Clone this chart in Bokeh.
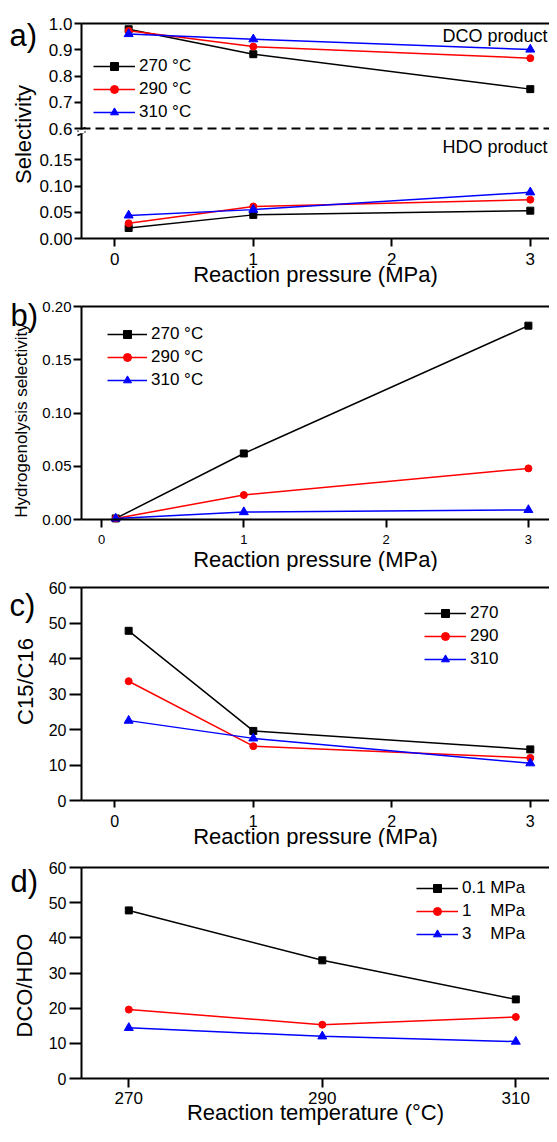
import math
from bokeh.plotting import figure
from bokeh.layouts import column
from bokeh.models import (Range1d, LinearAxis, FixedTicker, Legend,
                          LegendItem, Label, BoxAnnotation)
from bokeh.embed import file_html
from bokeh.resources import INLINE

FONT = "Liberation Sans"
W = 549          # figure width (px)
AX = 81          # x pixel of the y axis line

# ---------------- data ----------------
pressure = [0.1, 1, 3]            # MPa
temperature = [270, 290, 310]     # degC
temp_names = ["270 °C", "290 °C", "310 °C"]
temp_short = ["270", "290", "310"]
pres_names = ["0.1 MPa", "1\u00a0\u00a0\u00a0\u00a0MPa", "3\u00a0\u00a0\u00a0\u00a0MPa"]

# a) selectivity (DCO product, upper part / HDO product, lower part)
dco_270 = [0.978, 0.883, 0.750]
dco_290 = [0.972, 0.912, 0.868]
dco_310 = [0.960, 0.940, 0.901]
hdo_270 = [0.020, 0.045, 0.053]
hdo_290 = [0.029, 0.061, 0.074]
hdo_310 = [0.044, 0.055, 0.088]

# b) hydrogenolysis selectivity
hyd_270 = [0.001, 0.062, 0.182]
hyd_290 = [0.001, 0.023, 0.048]
hyd_310 = [0.001, 0.007, 0.009]

# c) C15/C16 vs pressure
c15_270 = [47.8, 19.6, 14.4]
c15_290 = [33.6, 15.3, 12.0]
c15_310 = [22.5, 17.5, 10.5]

# d) DCO/HDO vs temperature
dh_01 = [47.8, 33.6, 22.5]
dh_1 = [19.6, 15.3, 17.5]
dh_3 = [14.4, 12.0, 10.5]

COLORS = ["#000000", "#ff0000", "#0000ff"]
MARKERS = ["square", "circle", "triangle"]
SIZES = [7, 7, 9]


def x_range_for(x0_px, px_per_unit, origin=0.0):
    """x range spanning the whole figure width; returns (range, y-axis location)."""
    start = origin + (0 - x0_px) / px_per_unit
    end = origin + (W - x0_px) / px_per_unit
    axis_loc = origin + (AX - x0_px) / px_per_unit
    return Range1d(start, end), axis_loc


def y_range_for(v_ref, px_ref, px_per_unit, H):
    """y range spanning the whole figure height; px_ref = pixel row (from top) of v_ref."""
    return Range1d(v_ref - (H - px_ref) / px_per_unit, v_ref + px_ref / px_per_unit)


def px_x(xr, px):
    return xr.start + (xr.end - xr.start) * px / W


def px_y(yr, H, px):
    return yr.end - (yr.end - yr.start) * px / H


def make_fig(H, xr, yr, x_loc, y_bottom, y_top):
    p = figure(width=W, height=H, x_range=xr, y_range=yr,
               output_backend="svg", toolbar_location=None,
               min_border=0, min_border_left=0, min_border_right=0,
               min_border_top=0, min_border_bottom=0)
    p.outline_line_color = None
    p.xgrid.visible = False
    p.ygrid.visible = False
    p.background_fill_color = "white"
    p.border_fill_color = "white"
    xax = p.below[0]
    yax = p.left[0]
    xax.bounds = (x_loc, xr.end)
    xax.fixed_location = y_bottom
    yax.bounds = (y_bottom, y_top)
    yax.fixed_location = x_loc
    topax = LinearAxis(ticker=FixedTicker(ticks=[]), axis_line_width=2,
                       axis_line_color="black", bounds=(x_loc, xr.end),
                       fixed_location=y_top,
                       major_tick_out=0, major_tick_in=0,
                       minor_tick_out=0, minor_tick_in=0,
                       major_label_text_font_size="0px")
    p.add_layout(topax, "above")
    return p, xax, yax


def style_axis(ax, tick_font, tick_out, lab_standoff, label_font=22, label_standoff=0):
    ax.axis_line_width = 2
    ax.axis_line_color = "black"
    ax.major_tick_line_width = 2
    ax.major_tick_line_color = "black"
    ax.major_tick_out = tick_out
    ax.major_tick_in = 0
    ax.minor_tick_out = 0
    ax.minor_tick_in = 0
    ax.major_label_text_font = FONT
    ax.major_label_text_font_size = f"{tick_font}px"
    ax.major_label_text_color = "black"
    ax.major_label_standoff = lab_standoff
    ax.axis_label_text_font = FONT
    ax.axis_label_text_font_size = f"{label_font}px"
    ax.axis_label_text_font_style = "normal"
    ax.axis_label_text_color = "black"
    ax.axis_label_standoff = label_standoff


def y_title(p, xr, yr, H, text, base_px, center_px, size, **kw):
    p.add_layout(Label(x=px_x(xr, base_px), y=px_y(yr, H, center_px), text=text,
                       angle=math.pi / 2, text_font=FONT, text_font_size=f"{size}px",
                       text_color="black", text_align="center",
                       text_baseline="alphabetic", **kw))


def add_series(p, xs, ys, i, **kw):
    ln = p.line(xs, ys, line_color=COLORS[i], line_width=1.5, **kw)
    sc = p.scatter(xs, ys, marker=MARKERS[i], size=SIZES[i],
                   fill_color=COLORS[i], line_color=COLORS[i], **kw)
    return [ln, sc]


def add_legend(p, names, rens, vx, row1_center_px, H, gw=42):
    legend_h = 3 * 20 + 2 * 3
    vy = H - (row1_center_px - 10) - legend_h
    lg = Legend(items=[LegendItem(label=n, renderers=r) for n, r in zip(names, rens)],
                location=(vx, vy), glyph_width=gw, glyph_height=20,
                label_height=20, spacing=3, padding=0, margin=0,
                label_standoff=4, background_fill_alpha=0,
                border_line_color=None, label_text_font=FONT,
                label_text_font_size="17px", label_text_color="black")
    p.add_layout(lg)


def panel_label(p, text, x_loc, ytop, dx, dy):
    p.add_layout(Label(x=x_loc, y=ytop, x_offset=dx, y_offset=dy, text=text,
                       text_font=FONT, text_font_size="31px", text_color="black",
                       text_align="left", text_baseline="alphabetic"))


# ================= panel a =================
HA = 290
xr_a, loc_a = x_range_for(114.3, 138.5)
yr_a = y_range_for(0.0, 238, 525.0, HA)          # HDO (lower) scale
dco_range = y_range_for(1.0, 23, 262.5, HA)      # DCO (upper) scale


def to_lower(u):
    f = (u - dco_range.start) / (dco_range.end - dco_range.start)
    return yr_a.start + f * (yr_a.end - yr_a.start)


top_a = to_lower(1.0)
pa, xa, ya = make_fig(HA, xr_a, yr_a, loc_a, 0.0, top_a)
pa.extra_y_ranges = {"dco": dco_range}

low_ticks = [0.0, 0.05, 0.10, 0.15]
up_ticks = [0.6, 0.7, 0.8, 0.9, 1.0]
ticks_a = low_ticks + [to_lower(u) for u in up_ticks]
over_a = {t: f"{t:.2f}" for t in low_ticks}
over_a.update({to_lower(u): f"{u:.1f}" for u in up_ticks})

xa.ticker = FixedTicker(ticks=[0, 1, 2, 3])
xa.axis_label = "Reaction pressure (MPa)"
style_axis(xa, 17, 8, 6, 22, -6)
ya.ticker = FixedTicker(ticks=ticks_a)
ya.major_label_overrides = over_a
style_axis(ya, 17, 7, 2)
y_title(pa, xr_a, yr_a, HA, "Selectivity", 22.5, 134, 22)

pa.line([loc_a, xr_a.end], [0.6, 0.6], y_range_name="dco",
        line_color="black", line_width=1.8, line_dash="9 5")

# axis break marks at the 0.6 / 0.2 junction
pa.add_layout(BoxAnnotation(left=px_x(xr_a, AX - 3), right=px_x(xr_a, AX + 3),
                            top=px_y(yr_a, HA, 129.3), bottom=px_y(yr_a, HA, 132.7),
                            fill_color="white", fill_alpha=1.0, line_color=None,
                            level="overlay"))
pa.segment(x0=[px_x(xr_a, AX - 4)] * 2, x1=[px_x(xr_a, AX + 4)] * 2,
           y0=[px_y(yr_a, HA, 131), px_y(yr_a, HA, 135)],
           y1=[px_y(yr_a, HA, 127), px_y(yr_a, HA, 131)],
           line_color="black", line_width=1.5, level="overlay")

rens_a = []
for i, ys in enumerate([dco_270, dco_290, dco_310]):
    rens_a.append(add_series(pa, pressure, ys, i, y_range_name="dco"))
for i, ys in enumerate([hdo_270, hdo_290, hdo_310]):
    add_series(pa, pressure, ys, i)
add_legend(pa, temp_names, rens_a, 93, 65.7, HA)

pa.add_layout(Label(x=xr_a.end, y=1.0, y_range_name="dco", x_offset=-2, y_offset=-12.7,
                    text="DCO product", text_font=FONT, text_font_size="18px",
                    text_color="black", text_align="right", text_baseline="middle"))
pa.add_layout(Label(x=xr_a.end, y=0.6, y_range_name="dco", x_offset=-2, y_offset=-18.7,
                    text="HDO product", text_font=FONT, text_font_size="18px",
                    text_color="black", text_align="right", text_baseline="middle"))
panel_label(pa, "a)", loc_a, top_a, -72, -12)

# ================= panel b =================
HB = 281
xr_b, loc_b = x_range_for(101.0, 142.3)
yr_b = y_range_for(0.0, 229, 1065.0, HB)
pb, xb, yb = make_fig(HB, xr_b, yr_b, loc_b, 0.0, 0.20)
xb.ticker = FixedTicker(ticks=[0, 1, 2, 3])
xb.axis_label = "Reaction pressure (MPa)"
style_axis(xb, 13, 8, 7, 22, 0)
yb.ticker = FixedTicker(ticks=[0.0, 0.05, 0.10, 0.15, 0.20])
yb.major_label_overrides = {t: f"{t:.2f}" for t in [0.0, 0.05, 0.10, 0.15, 0.20]}
style_axis(yb, 15, 8, 2)
y_title(pb, xr_b, yr_b, HB, "Hydrogenolysis selectivity", 20.5, 130, 17)
rens_b = [add_series(pb, pressure, ys, i) for i, ys in enumerate([hyd_270, hyd_290, hyd_310])]
add_legend(pb, temp_names, rens_b, 107, 44.3, HB, gw=40)
panel_label(pb, "b)", loc_b, 0.20, -71, -9)

# ================= panel c =================
HC = 276
xr_c, loc_c = x_range_for(114.3, 138.5)
yr_c = y_range_for(0.0, 229, 213 / 60, HC)
pc, xc, yc = make_fig(HC, xr_c, yr_c, loc_c, 0.0, 60.0)
xc.ticker = FixedTicker(ticks=[0, 1, 2, 3])
xc.axis_label = "Reaction pressure (MPa)"
style_axis(xc, 16, 7, 7, 22, -6)
yc.ticker = FixedTicker(ticks=[0, 10, 20, 30, 40, 50, 60])
style_axis(yc, 16, 12, 3)
y_title(pc, xr_c, yr_c, HC, "C15/C16", 24.5, 110, 22)
rens_c = [add_series(pc, pressure, ys, i) for i, ys in enumerate([c15_270, c15_290, c15_310])]
add_legend(pc, temp_short, rens_c, 424, 42, HC)
panel_label(pc, "c)", loc_c, 60.0, -72, -18)

# ================= panel d =================
HD = 279
xr_d, loc_d = x_range_for(128.3, 9.675, origin=270)
yr_d = y_range_for(0.0, 231, 211 / 60, HD)
pd_, xd, yd = make_fig(HD, xr_d, yr_d, loc_d, 0.0, 60.0)
xd.ticker = FixedTicker(ticks=temperature)
xd.axis_label = "Reaction temperature (°C)"
style_axis(xd, 17, 9, 4, 22, -7)
yd.ticker = FixedTicker(ticks=[0, 10, 20, 30, 40, 50, 60])
style_axis(yd, 16, 12, 3)
y_title(pd_, xr_d, yr_d, HD, "DCO/HDO", 23.5, 138, 22)
rens_d = [add_series(pd_, temperature, ys, i) for i, ys in enumerate([dh_01, dh_1, dh_3])]
add_legend(pd_, pres_names, rens_d, 416, 41, HD)
panel_label(pd_, "d)", loc_d, 60.0, -71, -13.5)

layout = column(pa, pb, pc, pd_, spacing=0)
open("out.html", "w").write(file_html(layout, INLINE))
